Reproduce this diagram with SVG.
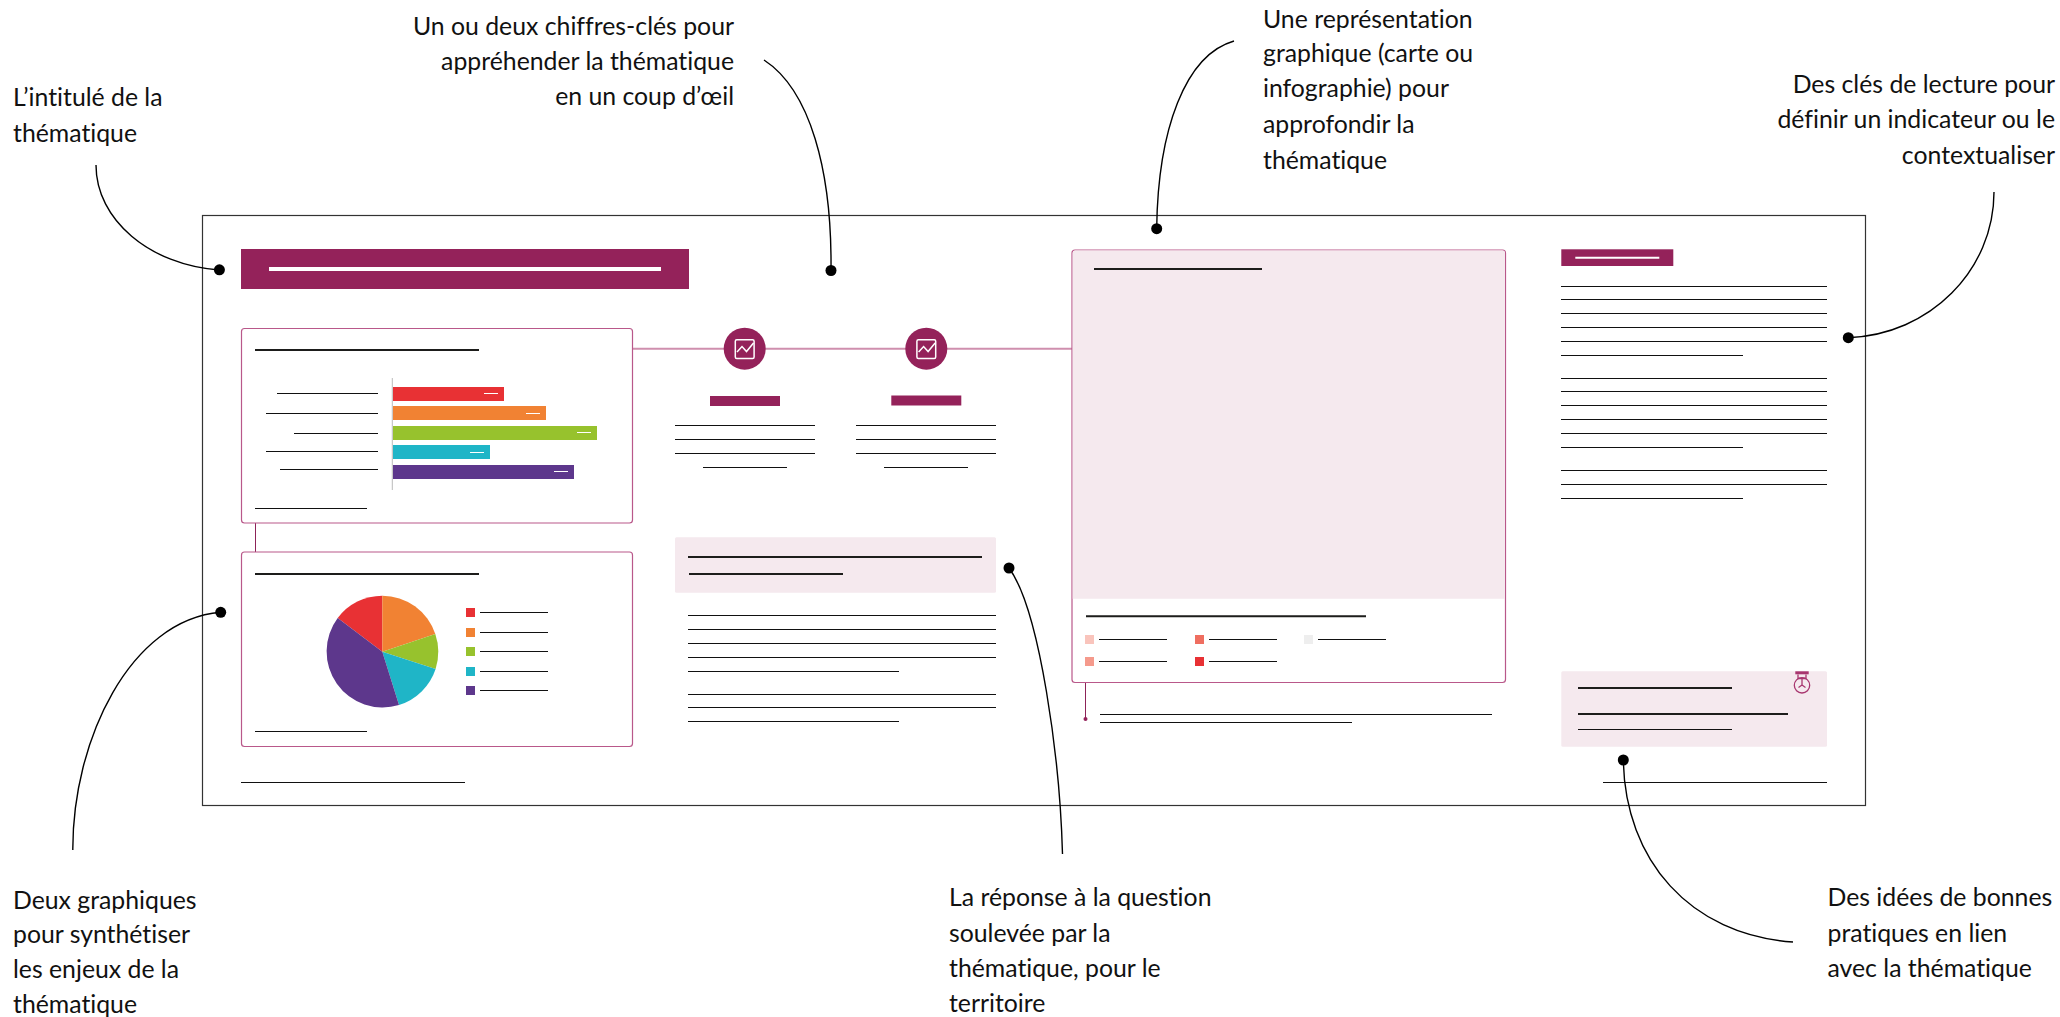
<svg xmlns="http://www.w3.org/2000/svg" width="2060" height="1017" viewBox="0 0 2060 1017">
<style>
text{font-family:"Lato","Open Sans","Liberation Sans",sans-serif;font-size:24.8px;fill:#111;font-variant-ligatures:none}
.e{text-anchor:end}
.l{stroke:#111;stroke-width:1.2;fill:none}
.t{stroke:#1d1d1b;stroke-width:2;fill:none}
.w{stroke:#fff;stroke-width:1;fill:none}
.c{fill:#fff;stroke:#b9588a;stroke-width:1.2}
.p{fill:#f5e9ee}
.m{fill:#94225a}
.cv{stroke:#000;stroke-width:1.4;fill:none}
.d{fill:#000}
.r{fill:#e83134}.o{fill:#f18233}.g{fill:#97c22d}.b{fill:#1fb5c7}.v{fill:#5d378c}
</style>
<rect width="2060" height="1017" fill="#fff"/>
<g id="frame"><rect x="202.500" y="215.500" width="1663" height="590" fill="#fff" stroke="#333" stroke-width="1.2"/></g>
<g id="title-bar"><rect class="m" x="241" y="249" width="448" height="40"/><rect x="269" y="267" width="392" height="4" fill="#fff"/></g>
<g id="links" fill="none"><path d="M632 348.700H1072" stroke="#cf8fae" stroke-width="2"/><path d="M255.500 523V552" stroke="#8d2358" stroke-width="1"/><path d="M1085.500 682V719" stroke="#8d2358" stroke-width="1"/></g>
<g id="bar-card"><rect class="c" x="241.500" y="328.500" width="391" height="194.500" rx="3"/>
<path class="t" d="M255 350H479"/>
<path class="l" d="M277 393.500H378M266 413.500H378M294 433.500H378M266 451.500H378M280 469.500H378M255 508.500H367"/>
<path d="M392.300 378V490" stroke="#bbb" stroke-width="1"/>
<rect class="r" x="393" y="387" width="111" height="14"/><rect class="o" x="393" y="406" width="153" height="14"/><rect class="g" x="393" y="426" width="204" height="14"/><rect class="b" x="393" y="445" width="97" height="14"/><rect class="v" x="393" y="465" width="181" height="14"/>
<path class="w" d="M484 393.500H498M526 413.500H540M577 432.500H591M470 452.500H484M554 471.500H568"/></g>
<g id="pie-card"><rect class="c" x="241.500" y="552" width="391" height="194.500" rx="3"/>
<path class="t" d="M255 574H479"/>
<path class="r" d="M382.300 651.700L337.700 618A56 56 0 0 1 382.300 595.700Z"/>
<path class="o" d="M382.300 651.700V595.700A56 56 0 0 1 435.300 634Z"/>
<path class="g" d="M382.300 651.700L435.300 634A56 56 0 0 1 435.600 669Z"/>
<path class="b" d="M382.300 651.700L435.600 669A56 56 0 0 1 399 705Z"/>
<path class="v" d="M382.300 651.700L399 705A56 56 0 0 1 337.700 618Z"/>
<rect class="r" x="466" y="608" width="9" height="9"/><rect class="o" x="466" y="628" width="9" height="9"/><rect class="g" x="466" y="647" width="9" height="9"/><rect class="b" x="466" y="667" width="9" height="9"/><rect class="v" x="466" y="686" width="9" height="9"/>
<path class="l" d="M480 612.500H548M480 632.500H548M480 651.500H548M480 671.500H548M480 690.500H548M255 731.500H367"/></g>
<path class="l" d="M241 782.500H465M1603 782.500H1827"/>
<g id="key-figure-1"><circle class="m" cx="744.700" cy="348.700" r="21"/><rect x="735.300" y="339.700" width="18.800" height="18.800" rx="1.500" fill="none" stroke="#fff" stroke-width="1.500"/><path d="M737 352L742 346.500L746.500 351.500L753.500 343" fill="none" stroke="#fff" stroke-width="1.500"/>
<rect class="m" x="710" y="396" width="70" height="10"/><path class="l" d="M675 425.500H815M675 439.500H815M675 453.500H815M703 467.500H787"/></g>
<g id="key-figure-2"><circle class="m" cx="926.300" cy="348.700" r="21"/><rect x="916.900" y="339.700" width="18.800" height="18.800" rx="1.500" fill="none" stroke="#fff" stroke-width="1.500"/><path d="M918.600 352L923.600 346.500L928.100 351.500L935.100 343" fill="none" stroke="#fff" stroke-width="1.500"/>
<rect class="m" x="891.300" y="395.500" width="70" height="10"/><path class="l" d="M856 425.500H996M856 439.500H996M856 453.500H996M884 467.500H968"/></g>
<g id="answer"><rect class="p" x="675" y="537.300" width="321" height="55.400" rx="1.500"/><path class="t" d="M688 557H982M689 574H843"/>
<path class="l" d="M688 615.500H996M688 629.500H996M688 643.500H996M688 657.500H996M688 671.500H899M688 694.500H996M688 707.500H996M688 721.500H899"/></g>
<g id="map-card"><rect class="c" x="1072" y="250" width="433.500" height="432.500" rx="3"/><path class="p" d="M1072.700 253a2.500 2.500 0 0 1 2.500-2.500H1502.500a2.500 2.500 0 0 1 2.500 2.500V598.700H1072.700Z"/>
<path class="t" d="M1094 269H1262M1086 616.300H1366"/>
<rect x="1085" y="635" width="9" height="9" fill="#f9c4bc"/><rect x="1195" y="635" width="9" height="9" fill="#ef6e60"/><rect x="1304" y="635" width="9" height="9" fill="#eee"/><rect x="1085" y="657" width="9" height="9" fill="#f59a8c"/><rect x="1195" y="657" width="9" height="9" fill="#e83134"/>
<path class="l" d="M1099 639.500H1167M1209 639.500H1277M1318 639.500H1386M1099 661.500H1167M1209 661.500H1277M1100 714.500H1492M1100 722.500H1352"/><circle class="m" cx="1085.500" cy="719" r="2"/></g>
<g id="key-column"><rect class="m" x="1561.300" y="249.300" width="112" height="16.700"/><path d="M1575.300 257.700H1659.300" stroke="#fff" stroke-width="2"/>
<path class="l" d="M1561 286.500H1827M1561 299.500H1827M1561 313.500H1827M1561 327.500H1827M1561 341.500H1827M1561 355.500H1743M1561 378.500H1827M1561 391.500H1827M1561 405.500H1827M1561 419.500H1827M1561 433.500H1827M1561 447.500H1743M1561 470.500H1827M1561 484.500H1827M1561 498.500H1743"/></g>
<g id="tip"><rect class="p" x="1561.300" y="671.300" width="265.700" height="75.400" rx="1.500"/><path class="t" d="M1578 688H1732M1578 714H1788"/><path class="l" d="M1578 729.500H1732"/>
<g fill="none" stroke="#a8366f" stroke-width="1.300"><circle cx="1802" cy="685.300" r="7.700"/><path d="M1798 674.500V678.500H1806V674.500M1802 678.500V685.500M1798.500 687.500L1802 685M1805.500 687.500L1802 685"/></g><rect x="1795.300" y="671.300" width="13.400" height="3" fill="#a8366f"/></g>
<g id="callouts">
<path class="cv" d="M96 165C96 220 150 265 219 270"/><circle class="d" cx="219.400" cy="269.800" r="5.500"/>
<path class="cv" d="M764 60C810 90 832 170 831 270"/><circle class="d" cx="831" cy="270.500" r="5.500"/>
<path class="cv" d="M1234 41C1185 55 1158 130 1156.700 228"/><circle class="d" cx="1156.700" cy="228.700" r="5.500"/>
<path class="cv" d="M1994 192C1994 270 1930 335 1848 337.700"/><circle class="d" cx="1848.300" cy="337.700" r="5.500"/>
<path class="cv" d="M72.800 850C72.500 740 130 620 220.700 612.300"/><circle class="d" cx="220.700" cy="612.300" r="5.500"/>
<path class="cv" d="M1009 568C1040 610 1060 760 1062.500 854"/><circle class="d" cx="1009" cy="568" r="5.500"/>
<path class="cv" d="M1623.300 760C1625 860 1690 935 1793 942"/><circle class="d" cx="1623.300" cy="760" r="5.500"/>
</g>
<g id="labels">
<text x="13" y="106">L’intitulé de la</text><text x="13" y="142">thématique</text>
<text class="e" x="734" y="35">Un ou deux chiffres-clés pour</text><text class="e" x="734" y="70">appréhender la thématique</text><text class="e" x="734" y="105">en un coup d’œil</text>
<text x="1263" y="28">Une représentation</text><text x="1263" y="62">graphique (carte ou</text><text x="1263" y="97">infographie) pour</text><text x="1263" y="133">approfondir la</text><text x="1263" y="169">thématique</text>
<text class="e" x="2055" y="93">Des clés de lecture pour</text><text class="e" x="2055" y="128">définir un indicateur ou le</text><text class="e" x="2055" y="164">contextualiser</text>
<text x="13" y="909">Deux graphiques</text><text x="13" y="943">pour synthétiser</text><text x="13" y="978">les enjeux de la</text><text x="13" y="1013">thématique</text>
<text x="949" y="906">La réponse à la question</text><text x="949" y="942">soulevée par la</text><text x="949" y="977">thématique, pour le</text><text x="949" y="1012">territoire</text>
<text x="1827.500" y="906">Des idées de bonnes</text><text x="1827.500" y="942">pratiques en lien</text><text x="1827.500" y="977">avec la thématique</text>
</g>
</svg>
